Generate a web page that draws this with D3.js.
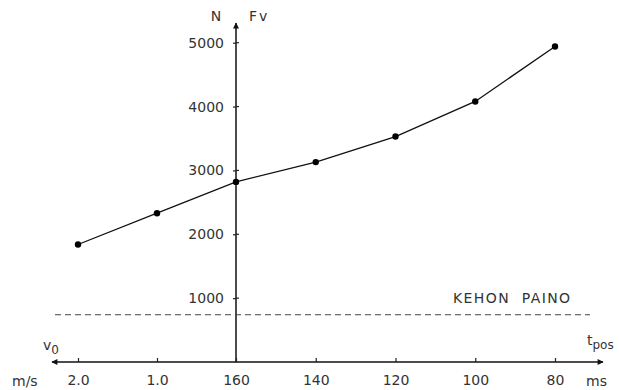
<!DOCTYPE html>
<html>
<head>
<meta charset="utf-8">
<script src="https://cdn.jsdelivr.net/npm/d3@7"></script>
<style>
  body { margin: 0; background: #fff; }
  text { font-family: "DejaVu Sans", sans-serif; font-size: 14px; fill: #333; }
  .axis path { display: none; }
  .axis line { stroke: #222; stroke-width: 1.2; }
</style>
</head>
<body>
<div id="chart"></div>
<script>
// Data
// left half: Fv against take-off speed v0 (m/s)
var vValues = [2.0, 1.0];
var vForce = [1840, 2330];
// right half: Fv against contact time t_pos (ms)
var tValues = [160, 140, 120, 100, 80];
var tForce = [2820, 3130, 3530, 4080, 4940];
var vTicks = [2.0, 1.0];
var tTicks = [160, 140, 120, 100, 80];
var forceTicks = [1000, 2000, 3000, 4000, 5000];
var bodyWeight = 740;

var svgWidth = 619;
var svgHeight = 390;

var svg = d3.select("#chart")
  .append("svg")
  .attr("width", svgWidth)
  .attr("height", svgHeight);

// Scales
var xOrigin = 236;
var yBase = 362;
var vScale = d3.scaleLinear().domain([0, 2]).range([xOrigin, 78]);
var tScale = d3.scaleLinear().domain([160, 80]).range([xOrigin, 555]);
var yScale = d3.scaleLinear().domain([0, 5000]).range([yBase, 42.7]);

// Arrow marker
var defs = svg.append("defs");
defs.append("marker")
  .attr("id", "arrow")
  .attr("viewBox", "0 0 10 10")
  .attr("refX", 9).attr("refY", 5)
  .attr("markerWidth", 9).attr("markerHeight", 6)
  .attr("markerUnits", "userSpaceOnUse")
  .attr("orient", "auto")
  .append("path")
  .attr("d", "M0,0 L10,5 L0,10 z")
  .attr("fill", "#111");

// Horizontal axis line with arrows both ways
svg.append("line")
  .attr("x1", xOrigin).attr("x2", 52)
  .attr("y1", yBase).attr("y2", yBase)
  .attr("stroke", "#111").attr("stroke-width", 1.3)
  .attr("marker-end", "url(#arrow)");
svg.append("line")
  .attr("x1", xOrigin).attr("x2", 603)
  .attr("y1", yBase).attr("y2", yBase)
  .attr("stroke", "#111").attr("stroke-width", 1.3)
  .attr("marker-end", "url(#arrow)");

// Vertical axis with arrow
svg.append("line")
  .attr("x1", xOrigin).attr("x2", xOrigin)
  .attr("y1", yBase).attr("y2", 23)
  .attr("stroke", "#111").attr("stroke-width", 1.5)
  .attr("marker-end", "url(#arrow)");

// Bottom axes (ticks point up, labels below)
svg.append("g")
  .attr("class", "axis")
  .attr("transform", `translate(0, ${yBase})`)
  .call(d3.axisBottom(vScale).tickValues(vTicks).tickFormat(d3.format(".1f"))
    .tickSizeInner(-4).tickSizeOuter(0).tickPadding(13));

svg.append("g")
  .attr("class", "axis")
  .attr("transform", `translate(0, ${yBase})`)
  .call(d3.axisBottom(tScale).tickValues(tTicks).tickFormat(d3.format("d"))
    .tickSizeInner(-4).tickSizeOuter(0).tickPadding(13));

// Left axis, cross-shaped ticks
svg.append("g")
  .attr("class", "axis")
  .attr("transform", `translate(${xOrigin}, 0)`)
  .call(d3.axisLeft(yScale).tickValues(forceTicks).tickFormat(d3.format("d"))
    .tickSizeInner(3).tickSizeOuter(0).tickPadding(9));

svg.selectAll(".ytickRight")
  .data(forceTicks)
  .enter()
  .append("line")
  .attr("x1", xOrigin).attr("x2", xOrigin + 3)
  .attr("y1", d => yScale(d)).attr("y2", d => yScale(d))
  .attr("stroke", "#222").attr("stroke-width", 1.2);

// Body weight dashed line
svg.append("line")
  .attr("x1", 55).attr("x2", 590)
  .attr("y1", yScale(bodyWeight)).attr("y2", yScale(bodyWeight))
  .attr("stroke", "#444").attr("stroke-width", 1)
  .attr("stroke-dasharray", "6,4");

svg.append("text")
  .attr("x", 453).attr("y", yScale(bodyWeight) - 12)
  .attr("letter-spacing", "1.4px")
  .text("KEHON\u00a0\u00a0PAINO");

// Curve points
var points = [];
vValues.forEach(function(v, i) { points.push([vScale(v), yScale(vForce[i])]); });
tValues.forEach(function(t, i) { points.push([tScale(t), yScale(tForce[i])]); });

svg.append("path")
  .datum(points)
  .attr("fill", "none")
  .attr("stroke", "#111")
  .attr("stroke-width", 1.3)
  .attr("d", d3.line());

svg.selectAll(".dot")
  .data(points)
  .enter()
  .append("circle")
  .attr("cx", d => d[0])
  .attr("cy", d => d[1])
  .attr("r", 3.2)
  .attr("fill", "#000");

// Axis titles
svg.append("text").attr("x", 216).attr("y", 21).attr("text-anchor", "middle").text("N");
svg.append("text").attr("x", 249).attr("y", 21).attr("letter-spacing", "2px").text("Fv");

var v0 = svg.append("text").attr("x", 43).attr("y", 350);
v0.append("tspan").text("v");
v0.append("tspan").attr("dy", 4).attr("font-size", "12px").text("0");

var tp = svg.append("text").attr("x", 587).attr("y", 345);
tp.append("tspan").text("t");
tp.append("tspan").attr("dy", 4).attr("font-size", "12px").text("pos");

svg.append("text").attr("x", 12).attr("y", 386).text("m/s");
svg.append("text").attr("x", 586).attr("y", 386).text("ms");
</script>
</body>
</html>
